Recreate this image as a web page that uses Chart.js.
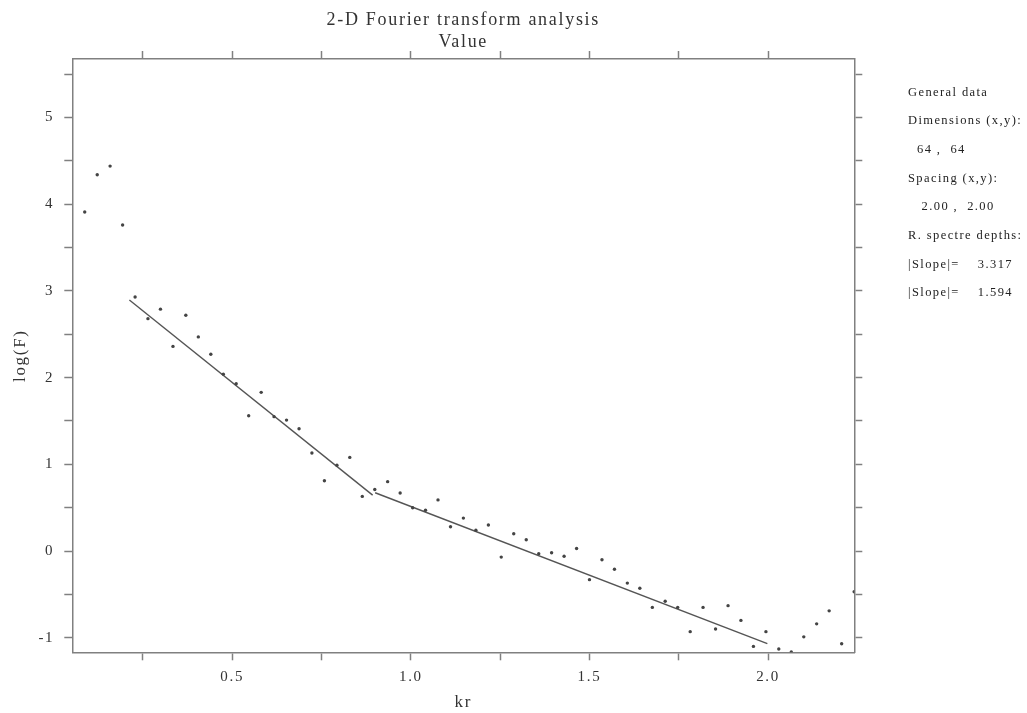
<!DOCTYPE html>
<html><head><meta charset="utf-8">
<script src="https://cdn.jsdelivr.net/npm/chart.js@4/dist/chart.umd.min.js"></script>
<style>
html,body{margin:0;padding:0;background:#fff;}
#wrap{position:relative;width:1027px;height:713px;overflow:hidden;}
#panel{position:absolute;left:908px;top:0;font-family:"Liberation Serif",serif;font-size:12.5px;color:#222;letter-spacing:1.4px;white-space:pre;}
#panel div{position:absolute;left:0;line-height:14px;transform:translateY(-50%);}
</style></head>
<body><div id="wrap"><canvas id="c" width="1027" height="713"></canvas><div id="panel"></div></div>
<script>
// ---- data ----
const kr = [0.087,0.122,0.158,0.193,0.228,0.264,0.299,0.334,0.370,0.405,
            0.440,0.475,0.511,0.546,0.581,0.617,0.652,0.687,0.723,0.758,
            0.793,0.829,0.864,0.899,0.935,0.970,1.005,1.041,1.076,1.111,
            1.147,1.182,1.217,1.253,1.288,1.323,1.358,1.394,1.429,1.464,
            1.500,1.535,1.570,1.606,1.641,1.676,1.712,1.747,1.782,1.818,
            1.853,1.888,1.924,1.959,1.994,2.030,2.065,2.100,2.136,2.171,
            2.206,2.241];
const logF = [3.91,4.34,4.44,3.76,2.93,2.68,2.79,2.36,2.72,2.47,
              2.27,2.04,1.93,1.56,1.83,1.55,1.51,1.41,1.13,0.81,
              0.99,1.08,0.63,0.71,0.80,0.67,0.50,0.47,0.59,0.28,
              0.38,0.24,0.30,-0.07,0.20,0.13,-0.03,-0.02,-0.06,0.03,
              -0.33,-0.10,-0.21,-0.37,-0.43,-0.65,-0.58,-0.65,-0.93,-0.65,
              -0.90,-0.63,-0.80,-1.10,-0.93,-1.13,-1.165,-0.99,-0.84,-0.69,
              -1.07,-0.47];
const fit1Kr = [0.212, 0.893];
const fit1LogF = [2.895, 0.645];
const fit2Kr = [0.900, 1.998];
const fit2LogF = [0.672, -1.068];
const xRange = [0.0522, 2.2414];
const yRange = [-1.168, 5.675];
const xTickStep = 0.25;
const yTickStep = 0.5;
const titleLines = ['2-D Fourier transform analysis', 'Value'];
const xTitle = 'kr';
const yTitle = 'log(F)';
const panelLines = ['General data', 'Dimensions (x,y):', '  64 ,  64', 'Spacing (x,y):',
                    '   2.00 ,  2.00', 'R. spectre depths:', '|Slope|=    3.317', '|Slope|=    1.594'];

// ---- side panel text ----
const panel = document.getElementById('panel');
panelLines.forEach((t, i) => {
  const d = document.createElement('div');
  d.textContent = t;
  d.style.top = (91.5 + i * 28.7) + 'px';
  panel.appendChild(d);
});

// ---- chart ----
const AX = '#808080';
const SERIF = '"Liberation Serif", "Times New Roman", serif';
const pts = kr.map((x, i) => ({x: x, y: logF[i]}));
const l1 = fit1Kr.map((x, i) => ({x: x, y: fit1LogF[i]}));
const l2 = fit2Kr.map((x, i) => ({x: x, y: fit2LogF[i]}));

function isMult(v, s) { return Math.abs(v / s - Math.round(v / s)) < 1e-6; }

function axisBase(pos) {
  return {
    type: 'linear', position: pos,
    border: {display: true, color: AX, width: 1.5},
    grid: {drawOnChartArea: false, drawTicks: true, tickLength: 8, tickColor: AX, tickWidth: 1.5},
  };
}

const xLabel = v => isMult(v, 0.5) ? v.toFixed(1) : '';
const yLabel = v => isMult(v, 1) ? String(Math.round(v)) : '';

const spacing = {
  id: 'spacing',
  beforeUpdate(c) { c.ctx.letterSpacing = '1.7px'; },
  beforeLayout(c) { c.ctx.letterSpacing = '1.7px'; },
  beforeDraw(c) { c.ctx.letterSpacing = '1.7px'; }
};

new Chart(document.getElementById('c'), {
  type: 'scatter',
  plugins: [spacing],
  data: {
    datasets: [
      {data: pts, showLine: false, pointRadius: 1.7, pointBackgroundColor: '#444', pointBorderWidth: 0, xAxisID: 'x', yAxisID: 'y'},
      {data: l1, showLine: true, pointRadius: 0, borderColor: '#555', borderWidth: 1.4, xAxisID: 'x', yAxisID: 'y'},
      {data: l2, showLine: true, pointRadius: 0, borderColor: '#555', borderWidth: 1.4, xAxisID: 'x', yAxisID: 'y'}
    ]
  },
  options: {
    responsive: false, animation: false, devicePixelRatio: 1,
    layout: {padding: 0},
    plugins: {
      legend: {display: false}, tooltip: {enabled: false},
      title: {display: true, text: titleLines, fullSize: false, color: '#333',
              font: {family: SERIF, size: 18, weight: 'normal', lineHeight: 1.2},
              padding: {top: 9.5, bottom: 0}}
    },
    scales: {
      x: Object.assign(axisBase('bottom'), {
        min: xRange[0], max: xRange[1],
        afterFit: s => { s.height = 60.7; },
        ticks: {stepSize: xTickStep, includeBounds: false, autoSkip: false, maxRotation: 0, padding: 8,
                color: '#333', font: {family: SERIF, size: 15}, callback: xLabel},
        title: {display: true, text: xTitle, color: '#333', font: {family: SERIF, size: 17}, padding: {top: 0, bottom: 0}}
      }),
      x2: Object.assign(axisBase('top'), {
        min: xRange[0], max: xRange[1],
        afterFit: s => { s.height = 6.3; },
        ticks: {stepSize: xTickStep, includeBounds: false, autoSkip: false, maxRotation: 0, padding: 0,
                font: {size: 1}, callback: () => ''}
      }),
      y: Object.assign(axisBase('left'), {
        min: yRange[0], max: yRange[1],
        afterFit: s => { s.width = 72.3; },
        ticks: {stepSize: yTickStep, includeBounds: false, autoSkip: false, padding: 10,
                color: '#333', font: {family: SERIF, size: 15}, callback: yLabel},
        title: {display: true, text: yTitle, color: '#333', font: {family: SERIF, size: 17}, padding: {top: 10, bottom: 0}}
      }),
      y2: Object.assign(axisBase('right'), {
        min: yRange[0], max: yRange[1],
        afterFit: s => { s.width = 1027 - 854.3; },
        ticks: {stepSize: yTickStep, includeBounds: false, autoSkip: false, padding: 0,
                font: {size: 1}, callback: () => ''}
      })
    }
  }
});
</script>
</body></html>
